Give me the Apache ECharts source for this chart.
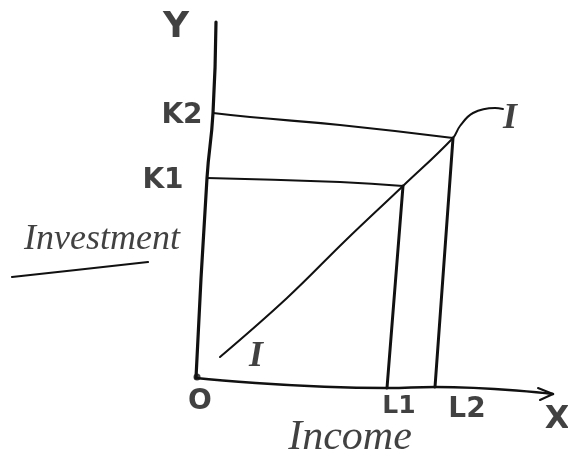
<!DOCTYPE html>
<html>
<head>
<meta charset="utf-8">
<script src="https://cdn.jsdelivr.net/npm/echarts@6/dist/echarts.min.js"></script>
<style>
  html, body { margin: 0; padding: 0; background: #fff; }
  #chart { width: 568px; height: 469px; }
</style>
</head>
<body>
<div id="chart"></div>
<script>
// Sketch of the investment function: investment (Y) against income (X).
// Coordinates are in sketch units with the origin O at (0, 0).

// Hand-drawn axes
const yAxisStroke = [[0, 0], [11, 200], [17, 265], [20, 356]];
const xAxisStroke = [[0, 0], [191, -10], [239, -9], [357, -16]];
const xArrowHead = [[342, -10], [357, -16], [344, -22]];

// Investment levels K1, K2 and the matching income levels L1, L2
const levelNames = ['K1', 'K2'];
const incomeNames = ['L1', 'L2'];
const k1Guide = [[11, 200], [144, 196], [207, 192]];
const k2Guide = [[17, 265], [54, 261], [144, 253], [257, 240]];
const l1Guide = [[207, 192], [191, -10]];
const l2Guide = [[257, 240], [239, -9]];

// Investment curve I
const investmentCurve = [[24, 21], [91, 80], [150, 138], [207, 192], [257, 240], [264, 252], [277, 265], [299, 270], [307, 269]];

// Underline beneath the vertical-axis title
const titleUnderline = [[-184, 101], [-120, 108], [-48, 116]];

// Text labels: [x, y, text, fontSize, style]
const textLabels = [
  [-20, 350, 'Y', 36, 'sans'],
  [-14, 262, 'K2', 28, 'sans'],
  [-33, 197, 'K1', 28, 'sans'],
  [4, -24, 'O', 28, 'sans'],
  [203, -28, 'L1', 25, 'sans'],
  [271, -32, 'L2', 28, 'sans'],
  [361, -42, 'X', 32, 'sans'],
  [154, -60, 'Income', 42, 'script'],
  [-94, 138, 'Investment', 36, 'script'],
  [314, 259, 'I', 36, 'serif'],
  [60, 21, 'I', 36, 'serif']
];

const ink = '#111';

const fontFor = {
  sans: { family: 'DejaVu Sans', style: 'normal', weight: 'bold' },
  script: { family: 'Liberation Serif', style: 'italic', weight: 'normal' },
  serif: { family: 'Liberation Serif', style: 'italic', weight: 'bold' }
};

function stroke(name, data, width, smooth) {
  return {
    name: name,
    type: 'line',
    data: data,
    smooth: smooth || false,
    symbol: 'none',
    silent: true,
    lineStyle: { color: ink, width: width, cap: 'round', join: 'round' },
    z: 2
  };
}

const chart = echarts.init(document.getElementById('chart'), null, { renderer: 'canvas' });

chart.setOption({
  backgroundColor: '#fff',
  animation: false,
  grid: { left: 0, right: 0, top: 0, bottom: 0 },
  xAxis: { type: 'value', min: -196, max: 372, show: false },
  yAxis: { type: 'value', min: -91, max: 378, show: false },
  series: [
    stroke('Y axis', yAxisStroke, 3.2, true),
    stroke('X axis', xAxisStroke, 2.6, true),
    stroke('arrow', xArrowHead, 2, false),
    stroke(levelNames[0], k1Guide, 2.2, true),
    stroke(levelNames[1], k2Guide, 2.2, true),
    stroke(incomeNames[0], l1Guide, 3, false),
    stroke(incomeNames[1], l2Guide, 3, false),
    stroke('I', investmentCurve, 2, 0.4),
    stroke('underline', titleUnderline, 2.2, true),
    {
      name: 'origin',
      type: 'scatter',
      data: [[1, 1]],
      symbol: 'circle',
      symbolSize: 7,
      itemStyle: { color: ink },
      silent: true
    },
    {
      name: 'labels',
      type: 'scatter',
      symbolSize: 0,
      silent: true,
      data: textLabels.map(function (t) {
        const f = fontFor[t[4]];
        return {
          value: [t[0], t[1]],
          label: {
            show: true,
            position: 'inside',
            formatter: t[2],
            color: ink,
            fontSize: t[3],
            fontFamily: f.family,
            fontStyle: f.style,
            fontWeight: f.weight
          }
        };
      }),
      z: 3
    }
  ]
});
</script>
</body>
</html>
